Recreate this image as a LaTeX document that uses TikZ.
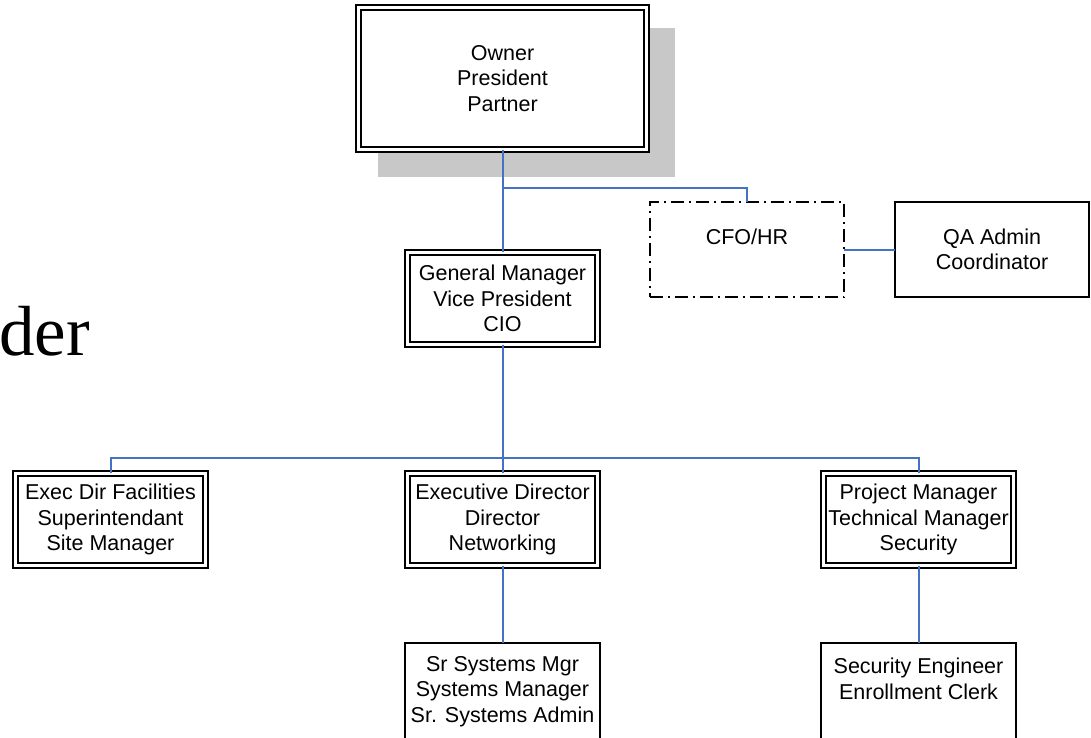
\documentclass[tikz,border=0pt]{standalone}
\usepackage{fontspec}
\setmainfont{Liberation Sans}
\newfontfamily\titlefont{Liberation Serif}
\definecolor{linkblue}{HTML}{4472C4}
\definecolor{shadowgray}{HTML}{C8C8C8}
\tikzset{
  x=1pt, y=-1pt,
  rolebox/.style={draw, fill=white, align=center, inner sep=0pt, outer sep=0pt,
    minimum width=#1, font=\fontsize{21.5}{25.5}\selectfont},
  rolebox/.default=197pt,
  doublebox/.style={rolebox=190.4pt, minimum height=92.4pt, double=white,
    double distance=2.8pt, line width=1.9pt},
  plainbox/.style={rolebox=194.5pt, minimum height=95.5pt, line width=2pt},
  dashbox/.style={rolebox=194.5pt, minimum height=95pt, line width=1.8pt,
    dash pattern=on 13pt off 5pt on 2pt off 5pt},
  link/.style={draw=linkblue, line width=2pt},
}
\begin{document}
\begin{tikzpicture}
\useasboundingbox (0,0) rectangle (1091,738);
\fill[white] (0,0) rectangle (1091,738);

% tail of the slide title behind the chart
\node[anchor=base west, inner sep=0pt, font=\titlefont\fontsize{71}{71}\selectfont] (title) at (-1,355) {der};

% top of the hierarchy, with its drop shadow
\fill[shadowgray] (378,28) rectangle (675,177);
\node[doublebox, minimum width=288.4pt, minimum height=142.4pt] (owner) at (502.5,78.5) {Owner\\President\\Partner};

% second tier
\node[doublebox] (gm) at (502.5,298.5) {General Manager\\Vice President\\CIO};
\node[dashbox] (cfo) at (747,249.5) {CFO/HR\\\mbox{}};
\node[plainbox] (qa) at (992,249.5) {QA Admin\\Coordinator};

% directors
\node[doublebox] (efac) at (110.5,519.5) {Exec Dir Facilities\\Superintendant\\Site Manager};
\node[doublebox] (exd) at (502.5,519.5) {Executive Director\\Director\\Networking};
\node[doublebox] (pm) at (918.5,519.5) {Project Manager\\Technical Manager\\Security};

% staff
\node[plainbox, minimum height=97pt] (sr) at (502.5,691.5) {Sr Systems Mgr\\Systems Manager\\Sr. Systems Admin};
\node[plainbox, minimum height=97pt] (se) at (918.5,691.5) {Security Engineer\\Enrollment Clerk\\\mbox{}};

% reporting lines
\coordinate (split) at (502.5,188);
\coordinate (bus) at (502.5,458);
\draw[link] (owner.south) -- (gm.north);
\draw[link] (split) -| (cfo.north);
\draw[link] (cfo.east) -- (qa.west);
\draw[link] (gm.south) -- (bus);
\draw[link] (bus) -| (efac.north);
\draw[link] (bus) -- (exd.north);
\draw[link] (bus) -| (pm.north);
\draw[link] (exd.south) -- (sr.north);
\draw[link] (pm.south) -- (se.north);
\end{tikzpicture}
\end{document}
